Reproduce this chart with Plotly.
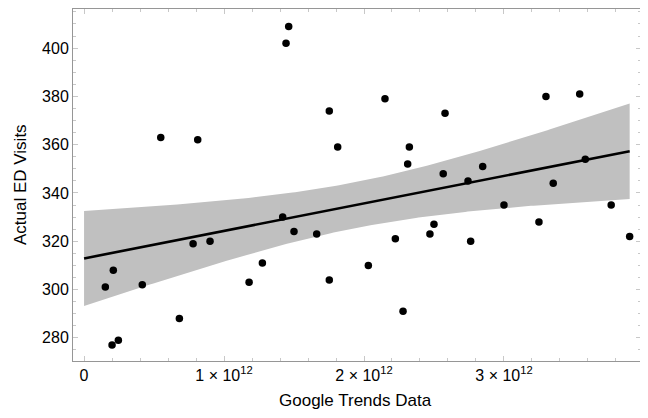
import numpy as np
import plotly.graph_objects as go

# Google Trends data (x) and actual ED visits (y)
google_trends = [
    0.548e12, 0.812e12, 1.443e12, 1.462e12, 1.752e12,
    1.812e12, 2.150e12, 2.324e12, 2.312e12, 2.579e12,
    2.566e12, 2.743e12, 2.848e12, 3.000e12, 3.300e12,
    3.352e12, 3.541e12, 3.581e12, 3.766e12,
    0.152e12, 0.209e12, 0.200e12, 0.245e12, 0.416e12,
    0.681e12, 0.779e12, 0.900e12, 1.179e12, 1.274e12,
    1.419e12, 1.500e12, 1.662e12, 1.752e12,
    2.031e12, 2.224e12, 2.279e12, 2.471e12, 2.500e12,
    2.762e12, 3.250e12, 3.898e12,
]
ed_visits = [
    363, 362, 402, 409, 374,
    359, 379, 359, 352, 373,
    348, 345, 351, 335, 380,
    344, 381, 354, 335,
    301, 308, 277, 279, 302,
    288, 319, 320, 303, 311,
    330, 324, 323, 304,
    310, 321, 291, 323, 327,
    320, 328, 322,
]

x_tick_vals = [0, 1e12, 2e12, 3e12]
x_tick_text = ["0", "1 \u00d7 10<sup>12</sup>", "2 \u00d7 10<sup>12</sup>", "3 \u00d7 10<sup>12</sup>"]
y_tick_vals = [280, 300, 320, 340, 360, 380, 400]
x_title = "Google Trends Data"
y_title = "Actual ED Visits"

# Linear fit with 95% mean-prediction band
x = np.array(google_trends)
y = np.array(ed_visits, dtype=float)
n = len(x)
slope, intercept = np.polyfit(x, y, 1)
resid = y - (intercept + slope * x)
s = np.sqrt(np.sum(resid ** 2) / (n - 2))
sxx = np.sum((x - x.mean()) ** 2)
t_crit = 2.0227  # t(0.975, df=39)
xf = np.linspace(0, x.max(), 200)
yf = intercept + slope * xf
hw = t_crit * s * np.sqrt(1.0 / n + (xf - x.mean()) ** 2 / sxx)

FONT = "Liberation Sans, Arial, sans-serif"

fig = go.Figure()
fig.add_trace(go.Scatter(
    x=np.concatenate([xf, xf[::-1]]),
    y=np.concatenate([yf + hw, (yf - hw)[::-1]]),
    fill="toself", fillcolor="rgb(192,192,192)",
    line=dict(width=0), mode="lines", hoverinfo="skip", showlegend=False,
))
fig.add_trace(go.Scatter(
    x=xf, y=yf, mode="lines", line=dict(color="black", width=2.6),
    showlegend=False,
))
fig.add_trace(go.Scatter(
    x=google_trends, y=ed_visits, mode="markers",
    marker=dict(color="black", size=7.5), showlegend=False,
))

axis_common = dict(
    showgrid=False, zeroline=False, showline=True, linecolor="rgb(150,150,150)",
    linewidth=1, mirror="ticks", ticks="inside", ticklen=5,
    tickcolor="rgb(200,200,200)", tickwidth=1, automargin=False,
    tickfont=dict(family=FONT, size=16, color="black"),
)
fig.update_xaxes(
    **axis_common,
    range=[-0.079e12, 3.979e12],
    tickmode="array", tickvals=x_tick_vals, ticktext=x_tick_text,
    minor=dict(dtick=0.2e12, tick0=0, ticks="inside", ticklen=3,
               tickcolor="rgb(200,200,200)", showgrid=False),
)
fig.update_yaxes(
    **axis_common,
    range=[270.4, 416.2],
    tickmode="array", tickvals=y_tick_vals,
    minor=dict(dtick=5, tick0=0, ticks="inside", ticklen=3,
               tickcolor="rgb(200,200,200)", showgrid=False),
)
fig.add_annotation(
    text=x_title, xref="paper", yref="paper", x=0.498, y=-0.111,
    xanchor="center", yanchor="middle", showarrow=False,
    font=dict(family=FONT, size=17, color="black"),
)
fig.add_annotation(
    text=y_title, xref="paper", yref="paper", x=-0.0933, y=0.5,
    xanchor="center", yanchor="middle", showarrow=False, textangle=-90,
    font=dict(family=FONT, size=17, color="black"),
)
# page body adds an 8px offset, so the figure is 8px smaller and margins shifted
fig.update_layout(
    width=640, height=402,
    margin=dict(l=65, r=7, t=1, b=49),
    plot_bgcolor="white", paper_bgcolor="white",
)
fig.write_html("out.html")
